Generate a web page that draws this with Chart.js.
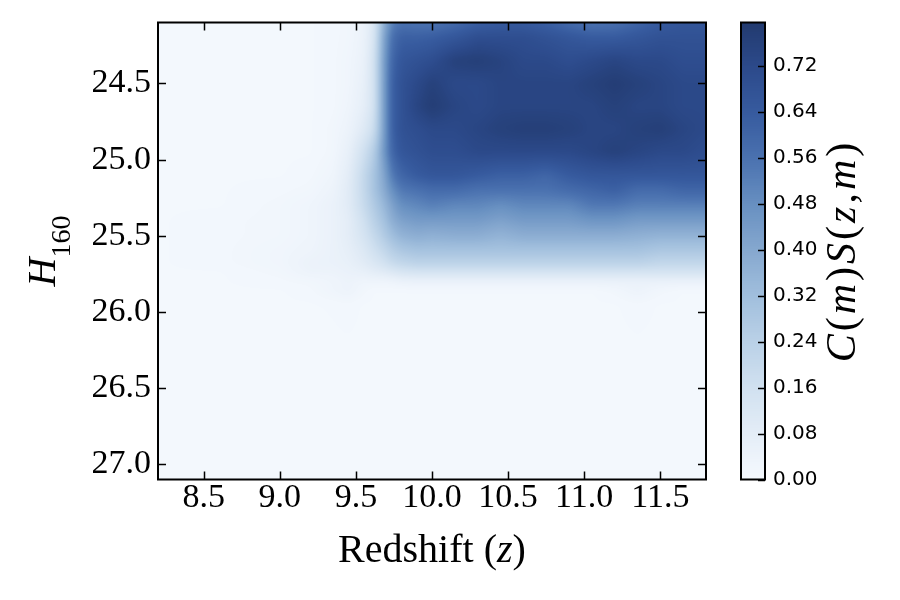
<!DOCTYPE html>
<html>
<head>
<meta charset="utf-8">
<script src="https://cdn.jsdelivr.net/npm/chart.js@4.4.1/dist/chart.umd.min.js"></script>
<style>
  html, body { margin: 0; padding: 0; background: #fff; }
  #wrap { width: 900px; height: 600px; }
</style>
</head>
<body>
<div id="wrap"><canvas id="c"></canvas></div>
<script>
// --- grid nodes (redshift columns, H160 rows) ---
const redshift = [8.2, 8.6, 9.0, 9.2, 9.35, 9.45, 9.55, 9.62, 9.68, 9.74, 9.8, 9.9, 10.0,
                  10.15, 10.3, 10.45, 10.6, 10.75, 10.9, 11.05, 11.2, 11.35, 11.5, 11.65, 11.8];
const H160 = [24.1, 24.2, 24.35, 24.5, 24.65, 24.8, 24.95, 25.1, 25.2, 25.3, 25.4, 25.5,
              25.6, 25.68, 25.74, 25.8, 25.86, 25.95, 26.3, 27.1];

// C(m)S(z,m), one row per H160 node
const s2410 = [0.01,0.01,0.01,0.01,0.015,0.02,0.04,0.12,0.36,0.52,0.56,0.55,0.55,0.58,0.62,0.64,0.64,0.62,0.58,0.55,0.56,0.60,0.64,0.66,0.66];
const s2420 = [0.01,0.01,0.01,0.01,0.015,0.02,0.045,0.13,0.40,0.57,0.62,0.62,0.63,0.66,0.70,0.70,0.70,0.68,0.66,0.64,0.64,0.66,0.68,0.68,0.68];
const s2435 = [0.01,0.01,0.01,0.01,0.015,0.025,0.05,0.15,0.42,0.60,0.66,0.68,0.70,0.76,0.77,0.75,0.72,0.72,0.70,0.72,0.74,0.72,0.72,0.70,0.70];
const s2450 = [0.01,0.01,0.01,0.01,0.015,0.025,0.06,0.15,0.42,0.62,0.68,0.72,0.76,0.72,0.72,0.74,0.74,0.74,0.74,0.76,0.78,0.76,0.74,0.72,0.72];
const s2465 = [0.01,0.01,0.01,0.01,0.015,0.03,0.07,0.15,0.42,0.62,0.68,0.74,0.78,0.74,0.72,0.74,0.74,0.74,0.74,0.74,0.76,0.74,0.74,0.72,0.72];
const s2480 = [0.01,0.01,0.01,0.01,0.02,0.04,0.10,0.18,0.42,0.62,0.68,0.70,0.72,0.72,0.74,0.76,0.77,0.77,0.76,0.74,0.74,0.76,0.77,0.74,0.72];
const s2495 = [0.01,0.01,0.01,0.01,0.02,0.06,0.16,0.26,0.44,0.60,0.66,0.68,0.70,0.70,0.72,0.72,0.72,0.72,0.72,0.74,0.76,0.74,0.72,0.72,0.70];
const s2510 = [0.01,0.01,0.01,0.015,0.03,0.08,0.20,0.30,0.40,0.54,0.60,0.64,0.66,0.66,0.64,0.62,0.62,0.60,0.64,0.66,0.66,0.66,0.66,0.66,0.66];
const s2520 = [0.01,0.01,0.015,0.02,0.04,0.09,0.20,0.30,0.38,0.48,0.54,0.56,0.58,0.58,0.56,0.56,0.56,0.56,0.58,0.60,0.62,0.58,0.58,0.60,0.60];
const s2530 = [0.01,0.01,0.02,0.03,0.05,0.09,0.19,0.27,0.34,0.42,0.48,0.50,0.52,0.50,0.50,0.48,0.50,0.50,0.50,0.54,0.54,0.52,0.52,0.52,0.52];
const s2540 = [0.01,0.015,0.02,0.03,0.05,0.08,0.16,0.24,0.30,0.38,0.42,0.44,0.44,0.44,0.44,0.42,0.44,0.44,0.44,0.46,0.46,0.44,0.44,0.44,0.44];
const s2550 = [0.01,0.015,0.02,0.03,0.05,0.08,0.14,0.20,0.26,0.32,0.36,0.38,0.37,0.38,0.38,0.36,0.38,0.38,0.38,0.38,0.38,0.37,0.36,0.36,0.36];
const s2560 = [0.01,0.015,0.025,0.035,0.05,0.07,0.11,0.16,0.20,0.25,0.28,0.30,0.30,0.30,0.30,0.30,0.30,0.30,0.30,0.30,0.30,0.30,0.28,0.28,0.28];
const s2568 = [0.01,0.015,0.025,0.045,0.05,0.06,0.09,0.12,0.15,0.19,0.21,0.23,0.23,0.23,0.23,0.23,0.23,0.23,0.23,0.23,0.23,0.23,0.21,0.21,0.21];
const s2574 = [0.01,0.01,0.02,0.04,0.04,0.05,0.06,0.08,0.09,0.11,0.13,0.14,0.14,0.14,0.14,0.14,0.14,0.14,0.14,0.14,0.14,0.14,0.14,0.14,0.14];
const s2580 = [0.01,0.01,0.015,0.02,0.03,0.04,0.03,0.03,0.03,0.035,0.045,0.05,0.05,0.05,0.05,0.05,0.05,0.05,0.05,0.05,0.05,0.05,0.05,0.05,0.05];
const s2586 = [0.01,0.01,0.01,0.015,0.03,0.04,0.02,0.01,0.01,0.01,0.01,0.01,0.01,0.01,0.01,0.01,0.01,0.01,0.01,0.01,0.02,0.04,0.02,0.01,0.01];
const s2595 = [0.01,0.01,0.01,0.01,0.012,0.015,0.01,0.01,0.01,0.01,0.01,0.01,0.01,0.01,0.01,0.01,0.01,0.01,0.01,0.01,0.01,0.015,0.01,0.01,0.01];
const s2630 = [0.008,0.008,0.008,0.008,0.008,0.008,0.008,0.008,0.008,0.008,0.008,0.008,0.008,0.008,0.008,0.008,0.008,0.008,0.008,0.008,0.008,0.008,0.008,0.008,0.008];
const s2710 = [0.008,0.008,0.008,0.008,0.008,0.008,0.008,0.008,0.008,0.008,0.008,0.008,0.008,0.008,0.008,0.008,0.008,0.008,0.008,0.008,0.008,0.008,0.008,0.008,0.008];
const rows = [s2410, s2420, s2435, s2450, s2465, s2480, s2495, s2510, s2520, s2530,
              s2540, s2550, s2560, s2568, s2574, s2580, s2586, s2595, s2630, s2710];

const xTicks = [8.5, 9.0, 9.5, 10.0, 10.5, 11.0, 11.5];
const yTicks = [24.5, 25.0, 25.5, 26.0, 26.5, 27.0];
const cTicks = [0.00, 0.08, 0.16, 0.24, 0.32, 0.40, 0.48, 0.56, 0.64, 0.72];
const cMax = 0.795;

// colour map (fraction of cMax -> colour)
const cmapStops = [
    [0.00, '#f5f9fe'], [0.10, '#e4edf7'], [0.20, '#d1e1f0'], [0.30, '#bad1e7'],
    [0.40, '#a1bfdd'], [0.50, '#86a8cf'], [0.60, '#6890c1'], [0.70, '#4b72b0'],
    [0.80, '#375b9f'], [0.90, '#2c4a8b'], [1.00, '#223a6f']
];

function hexRgb(h) {
    return [parseInt(h.slice(1, 3), 16), parseInt(h.slice(3, 5), 16), parseInt(h.slice(5, 7), 16)];
}
const LUT = [];
for (let i = 0; i < 256; i++) {
    const f = i / 255;
    let k = 0;
    while (k < cmapStops.length - 2 && f > cmapStops[k + 1][0]) k++;
    const [f0, c0] = cmapStops[k], [f1, c1] = cmapStops[k + 1];
    const t = Math.min(1, Math.max(0, (f - f0) / (f1 - f0)));
    const a = hexRgb(c0), b = hexRgb(c1);
    LUT.push([0, 1, 2].map(j => Math.round(a[j] + (b[j] - a[j]) * t)));
}
function colorFor(v) {
    const i = Math.max(0, Math.min(255, Math.round(v / cMax * 255)));
    return LUT[i];
}

function locate(arr, v) {
    const n = arr.length;
    if (v <= arr[0]) return [0, 0];
    if (v >= arr[n - 1]) return [n - 2, 1];
    let i = 0;
    while (arr[i + 1] < v) i++;
    return [i, (v - arr[i]) / (arr[i + 1] - arr[i])];
}

// simple separable box blur to soften the bilinear grid
function boxBlur(src, w, h, r) {
    const tmp = new Float32Array(w * h), out = new Float32Array(w * h);
    for (let j = 0; j < h; j++) {
        for (let i = 0; i < w; i++) {
            let s = 0, n = 0;
            for (let k = -r; k <= r; k++) {
                const ii = Math.min(w - 1, Math.max(0, i + k));
                s += src[j * w + ii]; n++;
            }
            tmp[j * w + i] = s / n;
        }
    }
    for (let j = 0; j < h; j++) {
        for (let i = 0; i < w; i++) {
            let s = 0, n = 0;
            for (let k = -r; k <= r; k++) {
                const jj = Math.min(h - 1, Math.max(0, j + k));
                s += tmp[jj * w + i]; n++;
            }
            out[j * w + i] = s / n;
        }
    }
    return out;
}

// --- heatmap, drawn through the x / y scales ---
const heatmapPlugin = {
    id: 'heatmap',
    beforeDatasetsDraw(chart) {
        const { ctx, chartArea: a, scales } = chart;
        const L = Math.round(a.left), T = Math.round(a.top);
        const w = Math.round(a.right) - L, h = Math.round(a.bottom) - T;
        const xs = [], ys = [];
        for (let i = 0; i < w; i++) xs.push(locate(redshift, scales.x.getValueForPixel(L + i + 0.5)));
        for (let j = 0; j < h; j++) ys.push(locate(H160, scales.y.getValueForPixel(T + j + 0.5)));
        let vals = new Float32Array(w * h);
        for (let j = 0; j < h; j++) {
            const [r, u] = ys[j];
            const r0 = rows[r], r1 = rows[r + 1];
            for (let i = 0; i < w; i++) {
                const [c, t] = xs[i];
                const top = r0[c] + (r0[c + 1] - r0[c]) * t;
                const bot = r1[c] + (r1[c + 1] - r1[c]) * t;
                vals[j * w + i] = top + (bot - top) * u;
            }
        }
        vals = boxBlur(boxBlur(vals, w, h, 3), w, h, 3);
        const img = ctx.createImageData(w, h);
        for (let p = 0; p < w * h; p++) {
            const col = colorFor(vals[p]);
            img.data[p * 4] = col[0]; img.data[p * 4 + 1] = col[1]; img.data[p * 4 + 2] = col[2];
            img.data[p * 4 + 3] = 255;
        }
        ctx.putImageData(img, L, T);
    }
};

function drawRich(ctx, parts, x, y) {
    // parts: [text, font, dy]; centred on x
    let total = 0;
    parts.forEach(p => { ctx.font = p[1]; total += ctx.measureText(p[0]).width; });
    let cx = x - total / 2;
    parts.forEach(p => {
        ctx.font = p[1];
        ctx.fillText(p[0], cx, y + (p[2] || 0));
        cx += ctx.measureText(p[0]).width;
    });
}

// --- frame, ticks, colorbar, axis titles ---
const decorPlugin = {
    id: 'decor',
    afterDraw(chart) {
        const { ctx, chartArea: a, scales } = chart;
        ctx.save();
        ctx.strokeStyle = '#000';
        ctx.fillStyle = '#000';

        // inward ticks on all four sides
        ctx.lineWidth = 1.5;
        ctx.beginPath();
        xTicks.forEach(v => {
            const px = Math.round(scales.x.getPixelForValue(v)) + 0.5;
            ctx.moveTo(px, a.top); ctx.lineTo(px, a.top + 8);
            ctx.moveTo(px, a.bottom); ctx.lineTo(px, a.bottom - 8);
        });
        yTicks.forEach(v => {
            const py = Math.round(scales.y.getPixelForValue(v)) + 0.5;
            ctx.moveTo(a.left, py); ctx.lineTo(a.left + 8, py);
            ctx.moveTo(a.right, py); ctx.lineTo(a.right - 8, py);
        });
        ctx.stroke();

        ctx.lineWidth = 2;
        ctx.strokeRect(a.left, a.top, a.right - a.left, a.bottom - a.top);

        // colorbar
        const cb = scales.cbar;
        const x0 = a.right + 35, cw = 24;
        for (let py = Math.floor(cb.top); py < cb.bottom; py++) {
            const col = colorFor(cb.getValueForPixel(py + 0.5));
            ctx.fillStyle = `rgb(${col[0]},${col[1]},${col[2]})`;
            ctx.fillRect(x0, py, cw, 1);
        }
        ctx.lineWidth = 1.5;
        ctx.beginPath();
        cTicks.forEach(v => {
            const py = Math.round(cb.getPixelForValue(v)) + 0.5;
            ctx.moveTo(x0 + cw, py); ctx.lineTo(x0 + cw - 7, py);
        });
        ctx.stroke();
        ctx.lineWidth = 2;
        ctx.strokeRect(x0, cb.top, cw, cb.bottom - cb.top);

        // axis titles
        ctx.fillStyle = '#000';
        ctx.textBaseline = 'alphabetic';
        const serif = '"Liberation Serif", "Times New Roman", serif';
        drawRich(ctx, [
            ['Redshift (', `40px ${serif}`],
            ['z', `italic 40px ${serif}`],
            [')', `40px ${serif}`]
        ], (a.left + a.right) / 2, 562);

        ctx.save();
        ctx.translate(55, (a.top + a.bottom) / 2);
        ctx.rotate(-Math.PI / 2);
        drawRich(ctx, [
            ['H', `italic 40px ${serif}`],
            ['160', `28px ${serif}`, 15]
        ], 0, 0);
        ctx.restore();

        ctx.save();
        ctx.translate(855, (a.top + a.bottom) / 2);
        ctx.rotate(-Math.PI / 2);
        ctx.letterSpacing = '3px';
        const it = `italic 42px ${serif}`, up = `42px ${serif}`;
        drawRich(ctx, [
            ['C', it], ['(', up], ['m', it], [')', up], ['S', it],
            ['(', up], ['z', it], [',', up], ['m', it], [')', up]
        ], 0, 0);
        ctx.restore();

        ctx.restore();
    }
};

const tickFont = { family: '"Liberation Serif", "Times New Roman", serif', size: 34 };
const setTicks = list => scale => { scale.ticks = list.map(v => ({ value: v })); };
const noPad = s => { s.paddingTop = 0; s.paddingBottom = 0; s.paddingLeft = 0; s.paddingRight = 0; };

new Chart(document.getElementById('c'), {
    type: 'scatter',
    data: {
        datasets: [{
            label: 'grid',
            data: redshift.map(z => ({ x: z, y: H160[0] })),
            pointRadius: 0,
            showLine: false
        }]
    },
    options: {
        responsive: true,
        maintainAspectRatio: false,
        animation: false,
        events: [],
        layout: { padding: { top: 22.5, left: 0, right: 0, bottom: 0 } },
        plugins: { legend: { display: false }, tooltip: { enabled: false } },
        scales: {
            x: {
                type: 'linear', position: 'bottom', min: 8.2, max: 11.8,
                grid: { display: false, drawTicks: false }, border: { display: false },
                afterBuildTicks: setTicks(xTicks),
                afterFit: s => { s.height = 120.5; noPad(s); },
                ticks: { color: '#000', font: tickFont, padding: -2, maxRotation: 0, autoSkip: false,
                         callback: v => v.toFixed(1) }
            },
            y: {
                type: 'linear', position: 'left', min: 24.1, max: 27.1, reverse: true,
                grid: { display: false, drawTicks: false }, border: { display: false },
                afterBuildTicks: setTicks(yTicks),
                afterFit: s => { s.width = 158; noPad(s); },
                ticks: { color: '#000', font: tickFont, padding: 7, autoSkip: false,
                         callback: v => v.toFixed(1) }
            },
            cbar: {
                type: 'linear', position: 'right', min: 0, max: cMax,
                grid: { display: false, drawTicks: false }, border: { display: false },
                afterBuildTicks: setTicks(cTicks),
                afterFit: s => { s.width = 194; noPad(s); },
                ticks: { color: '#000', font: { family: '"DejaVu Sans", sans-serif', size: 20 },
                         padding: 67, autoSkip: false, callback: v => v.toFixed(2) }
            }
        }
    },
    plugins: [heatmapPlugin, decorPlugin]
});
</script>
</body>
</html>
